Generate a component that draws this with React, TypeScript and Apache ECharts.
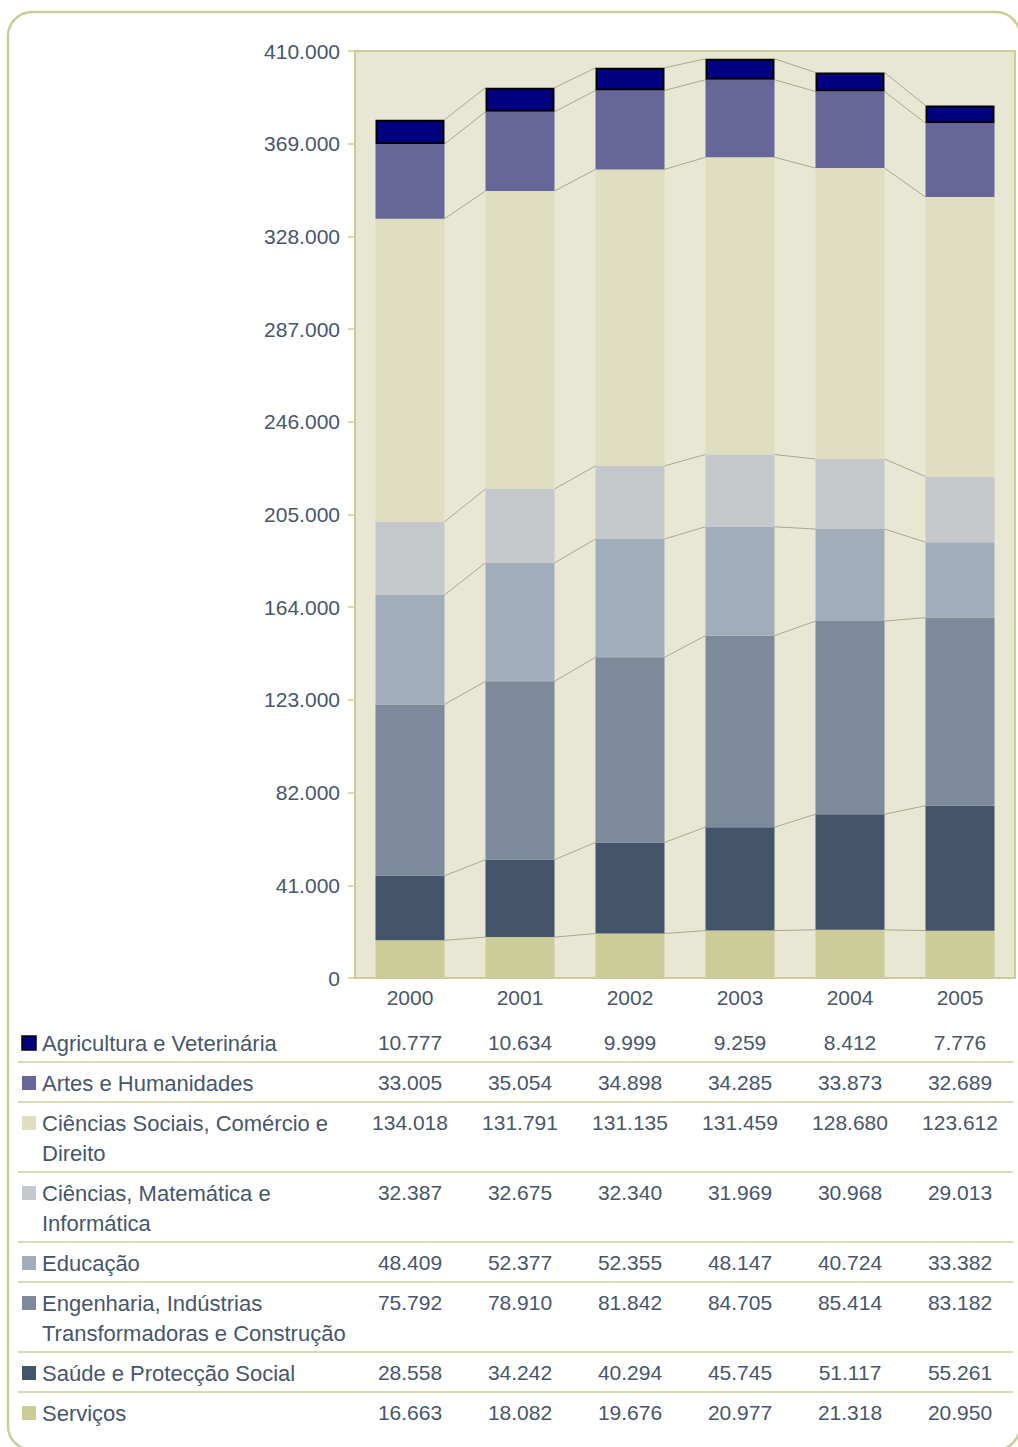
import React, { useEffect, useRef } from "react";
import * as echarts from "echarts";

const years = ["2000", "2001", "2002", "2003", "2004", "2005"];
const yTicks = { min: 0, max: 410000, interval: 41000 };

// table order (top to bottom)
const seriesNames = [
  "Agricultura e Veterinária",
  "Artes e Humanidades",
  "Ciências Sociais, Comércio e Direito",
  "Ciências, Matemática e Informática",
  "Educação",
  "Engenharia, Indústrias Transformadoras e Construção",
  "Saúde e Protecção Social",
  "Serviços",
];
const tableLabels = [
  ["Agricultura e Veterinária"],
  ["Artes e Humanidades"],
  ["Ciências Sociais, Comércio e", "Direito"],
  ["Ciências, Matemática e", "Informática"],
  ["Educação"],
  ["Engenharia, Indústrias", "Transformadoras e Construção"],
  ["Saúde e Protecção Social"],
  ["Serviços"],
];
const agricultura = [10777, 10634, 9999, 9259, 8412, 7776];
const artes = [33005, 35054, 34898, 34285, 33873, 32689];
const cienciasSociais = [134018, 131791, 131135, 131459, 128680, 123612];
const cienciasMat = [32387, 32675, 32340, 31969, 30968, 29013];
const educacao = [48409, 52377, 52355, 48147, 40724, 33382];
const engenharia = [75792, 78910, 81842, 84705, 85414, 83182];
const saude = [28558, 34242, 40294, 45745, 51117, 55261];
const servicos = [16663, 18082, 19676, 20977, 21318, 20950];

const seriesValues = [agricultura, artes, cienciasSociais, cienciasMat, educacao, engenharia, saude, servicos];
const seriesColors = ["#000080", "#666699", "#DFDEC0", "#C5C8CB", "#A2ADBB", "#7D8A9B", "#44546A", "#CCCC99"];

const TEXT = "#47566C";
const OLIVE = "#CCCC99";
const FONT = "'Liberation Sans', Arial, sans-serif";

const fmt = (n: number) => String(n).replace(/\B(?=(\d{3})+(?!\d))/g, ".");

export default function App() {
  const ref = useRef<HTMLDivElement>(null);
  useEffect(() => {
    if (!ref.current) return;
    const chart = echarts.init(ref.current, undefined, { renderer: "svg" });

    // stacking order bottom -> top is reverse of table order
    const stackIdx = [7, 6, 5, 4, 3, 2, 1, 0];
    const barSeries = stackIdx.map((k) => ({
      name: seriesNames[k],
      type: "bar",
      stack: "total",
      barWidth: 69,
      data: seriesValues[k],
      itemStyle: {
        color: seriesColors[k],
        borderColor: k === 0 ? "#000000" : undefined,
        borderWidth: k === 0 ? 2 : 0,
      },
      z: 3,
    }));

    // cumulative levels for series lines
    const cum: number[][] = years.map((_, i) => {
      let s = 0;
      return stackIdx.map((k) => (s += seriesValues[k][i]));
    });
    const lineData = years.slice(0, -1).map((_, i) => [i, ...cum[i], ...cum[i + 1]]);
    const nLev = stackIdx.length;

    const lineSeries = {
      type: "custom",
      data: lineData,
      encode: { x: 0, y: 1 },
      z: 2,
      silent: true,
      renderItem: (params: any, api: any) => {
        const i = api.value(0);
        const half = 34.5;
        const children = [];
        for (let k = 0; k < nLev; k++) {
          const p1 = api.coord([i, api.value(1 + k)]);
          const p2 = api.coord([i + 1, api.value(1 + nLev + k)]);
          children.push({
            type: "line",
            shape: { x1: p1[0] + half, y1: p1[1], x2: p2[0] - half, y2: p2[1] },
            style: { stroke: "#A9A890", lineWidth: 1 },
          });
        }
        return { type: "group", children };
      },
    };

    // data table graphics
    const graphics: any[] = [];
    graphics.push({
      type: "rect",
      shape: { x: 8, y: 12, width: 1012, height: 1438, r: 24 },
      style: { fill: "none", stroke: OLIVE, lineWidth: 2.5 },
      silent: true,
    });
    let top = 1022;
    tableLabels.forEach((lines, r) => {
      const h = 40 + 30 * (lines.length - 1);
      graphics.push({
        type: "rect",
        shape: { x: 22, y: top + 14, width: 14, height: 14 },
        style: { fill: seriesColors[r], stroke: r === 0 ? "#000" : undefined, lineWidth: r === 0 ? 1.5 : 0 },
      });
      lines.forEach((ln, j) => {
        graphics.push({
          type: "text",
          x: 42,
          y: top + 21 + 30 * j,
          style: { text: ln, fill: TEXT, font: `22px ${FONT}`, textVerticalAlign: "middle", textAlign: "left" },
        });
      });
      seriesValues[r].forEach((v, c) => {
        graphics.push({
          type: "text",
          x: 410 + 110 * c,
          y: top + 20,
          style: { text: fmt(v), fill: TEXT, font: `21px ${FONT}`, textVerticalAlign: "middle", textAlign: "center" },
        });
      });
      if (r < tableLabels.length - 1) {
        graphics.push({
          type: "line",
          shape: { x1: 18, y1: top + h, x2: 1013, y2: top + h },
          style: { stroke: OLIVE, lineWidth: 1.5 },
        });
      }
      top += h;
    });

    chart.setOption({
      animation: false,
      backgroundColor: "#FFFFFF",
      grid: {
        left: 355,
        top: 51,
        width: 660,
        height: 927,
        show: true,
        backgroundColor: "#E8E7D3",
        borderColor: OLIVE,
        borderWidth: 2,
      },
      xAxis: {
        type: "category",
        data: years,
        axisTick: { show: false },
        axisLine: { lineStyle: { color: OLIVE, width: 2 } },
        axisLabel: { color: TEXT, fontSize: 21, fontFamily: FONT, margin: 9 },
      },
      yAxis: {
        type: "value",
        min: yTicks.min,
        max: yTicks.max,
        interval: yTicks.interval,
        axisLine: { show: true, lineStyle: { color: OLIVE, width: 2 } },
        axisTick: { show: true, length: 7, lineStyle: { color: OLIVE, width: 1.5 } },
        splitLine: { show: false },
        axisLabel: { color: TEXT, fontSize: 21, fontFamily: FONT, margin: 15, formatter: (v: number) => fmt(v) },
      },
      series: [...barSeries, lineSeries],
      graphic: graphics,
    });
    return () => chart.dispose();
  }, []);
  return <div ref={ref} style={{ position: "absolute", left: 0, top: 0, width: 1018, height: 1447 }} />;
}
